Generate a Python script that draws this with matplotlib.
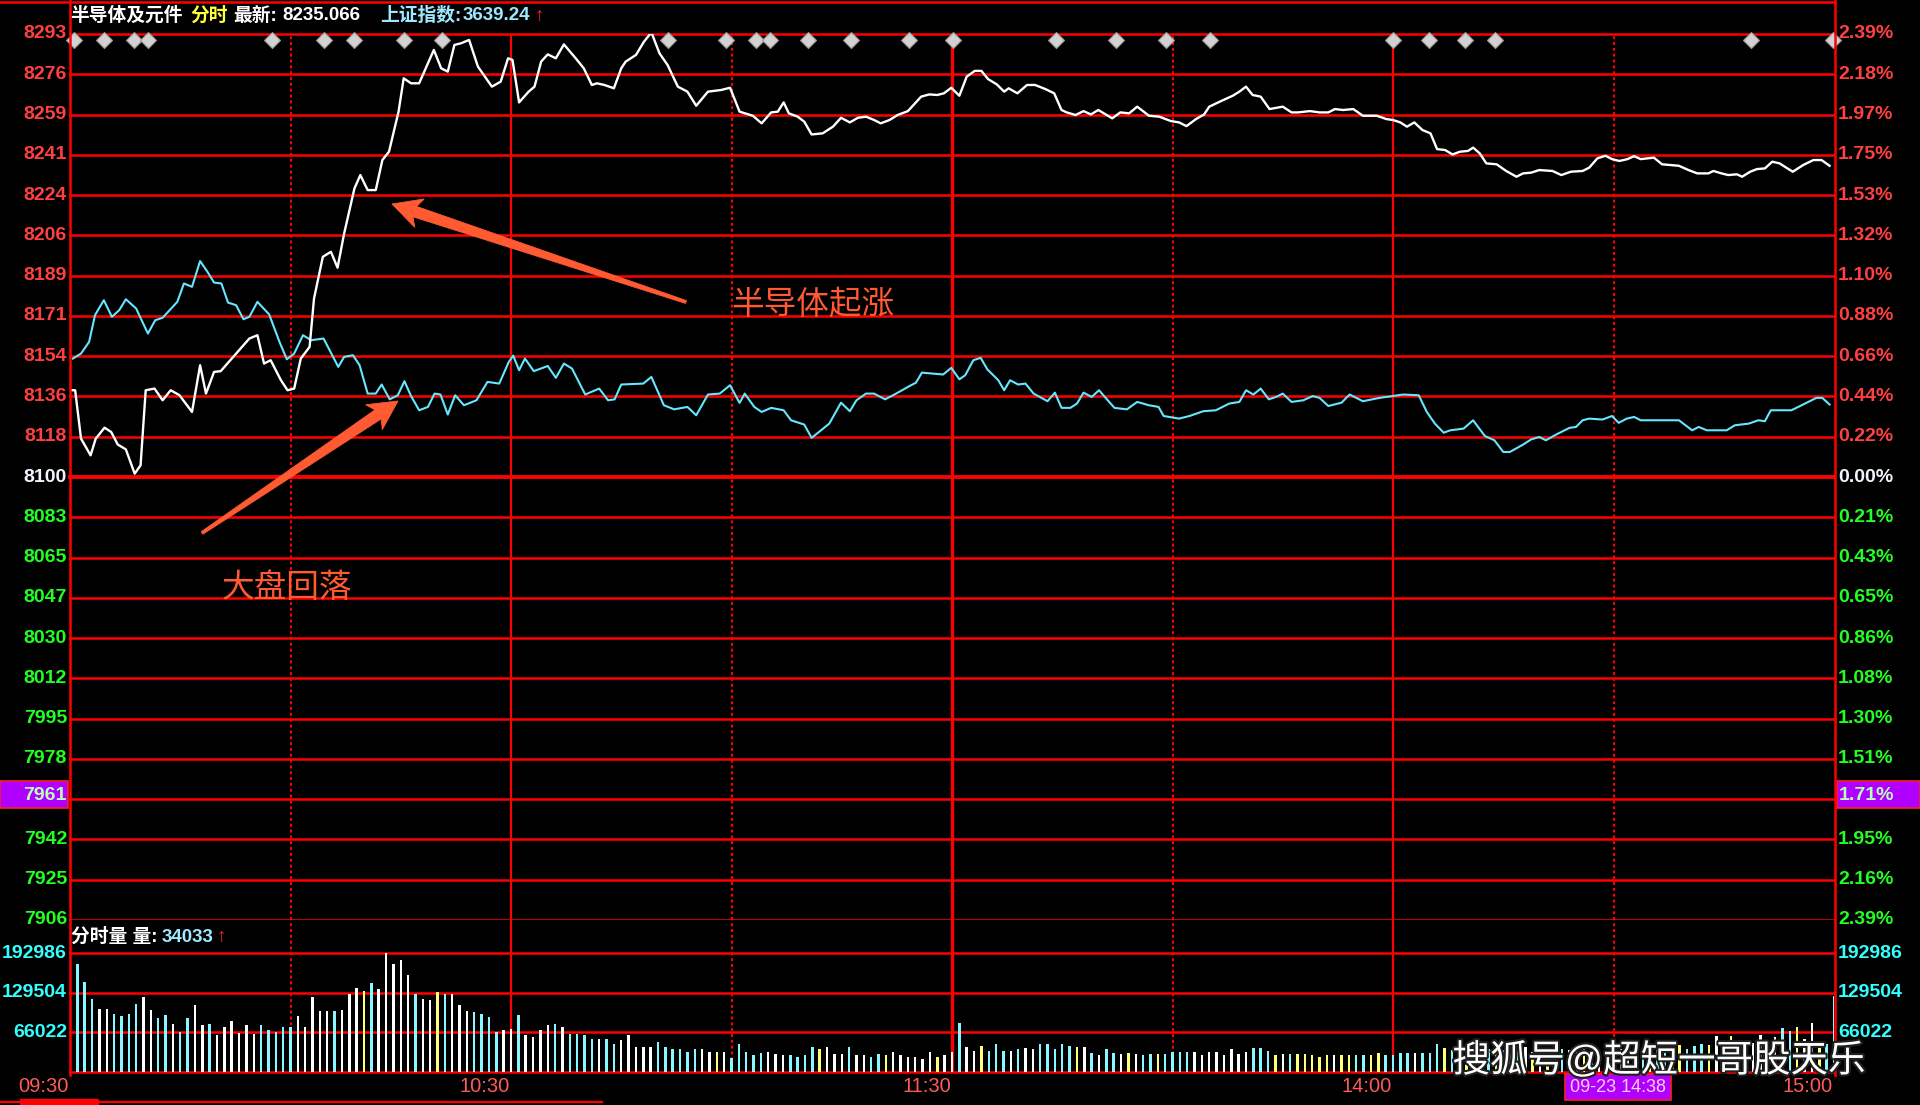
import numpy as np
import matplotlib.pyplot as plt
import matplotlib.patheffects as pe
from matplotlib.patches import Polygon, Rectangle

plt.rcParams['font.family'] = ['Liberation Sans', 'Noto Sans CJK SC', 'DejaVu Sans']

# ---------------- data ----------------
# x = trading minutes after 09:30 (lunch break removed), y = % change vs previous close
semi_t = [0, 0.7, 1.5, 2.8, 3.5, 4.7, 5.6, 6.5, 7.6, 8.8,
          9.6, 10.3, 11.5, 12.6, 13.7, 14.9, 16.6, 17.7, 18.5, 19.6,
          20.5, 22.4, 24.4, 25.5, 26.4, 27.3, 28.7, 29.6, 30.5, 31.4,
          32.6, 33.2, 34.4, 35.5, 36.4, 37.3, 38.7, 39.5, 40.5, 41.6,
          42.5, 43.4, 44.7, 45.4, 46.4, 47.5, 49.5, 50.5, 51.4, 52.3,
          53.2, 54.3, 55.5, 57.4, 58.6, 59.6, 60.2, 60.6, 61.1, 62.4,
          63.2, 64.1, 65.0, 66.1, 67.2, 68.8, 69.9, 71.0, 71.7, 72.7,
          74.0, 75.0, 75.6, 77.0, 78.1, 79.1, 80.2, 81.3, 82.7, 84.0,
          85.2, 86.8, 88.6, 89.8, 91.1, 92.9, 94.1, 95.4, 96.3, 97.1,
          97.8, 99.0, 99.9, 100.9, 102.4, 103.8, 104.9, 106.1, 107.2, 108.3,
          109.4, 110.3, 111.5, 112.6, 114.0, 115.8, 116.9, 118.0, 118.9, 119.9,
          121.0, 122.0, 123.1, 124.0, 124.9, 126.1, 127.1, 127.7, 128.9, 130.2,
          131.3, 132.7, 133.9, 134.9, 135.6, 136.8, 137.9, 138.9, 139.9, 141.8,
          142.9, 144.1, 145.2, 146.8, 148.2, 149.8, 150.9, 151.9, 153.2, 154.3,
          155.0, 156.6, 158.2, 159.1, 160.0, 160.9, 162.0, 163.2, 165.0, 166.2,
          167.1, 168.7, 170.0, 171.2, 172.1, 173.2, 174.6, 175.9, 177.8, 179.1,
          180.0, 181.0, 181.9, 182.9, 184.0, 185.1, 186.0, 187.1, 188.1, 189.1,
          190.2, 190.9, 191.8, 192.7, 194.1, 195.4, 196.8, 197.7, 198.8, 199.9,
          201.7, 202.9, 204.2, 205.8, 206.7, 207.8, 208.9, 209.8, 210.8, 211.9,
          212.8, 213.7, 215.5, 216.6, 218.9, 220.2, 221.4, 222.9, 223.6, 224.7,
          225.6, 226.8, 227.5, 228.6, 229.5, 230.6, 231.6, 232.6, 233.5, 234.4,
          235.8, 237.2, 238.3, 239.4]
semi_pct = [0.468, 0.468, 0.207, 0.117, 0.207, 0.266, 0.243, 0.175, 0.149, 0.018,
            0.063, 0.468, 0.477, 0.414, 0.468, 0.441, 0.351, 0.603, 0.450, 0.567,
            0.571, 0.657, 0.747, 0.765, 0.612, 0.630, 0.522, 0.468, 0.477, 0.639,
            0.702, 0.963, 1.188, 1.215, 1.129, 1.314, 1.557, 1.629, 1.548, 1.548,
            1.710, 1.755, 1.971, 2.151, 2.124, 2.124, 2.304, 2.205, 2.187, 2.331,
            2.340, 2.358, 2.214, 2.106, 2.133, 2.259, 2.250, 2.150, 2.021, 2.079,
            2.106, 2.241, 2.280, 2.259, 2.334, 2.259, 2.205, 2.115, 2.124, 2.115,
            2.097, 2.205, 2.241, 2.277, 2.349, 2.399, 2.286, 2.223, 2.106, 2.079,
            2.003, 2.079, 2.088, 2.100, 1.971, 1.949, 1.908, 1.967, 1.971, 2.021,
            1.962, 1.944, 1.917, 1.848, 1.854, 1.890, 1.938, 1.913, 1.938, 1.944,
            1.926, 1.908, 1.926, 1.953, 1.974, 2.052, 2.064, 2.061, 2.070, 2.100,
            2.057, 2.160, 2.191, 2.191, 2.147, 2.118, 2.079, 2.097, 2.070, 2.115,
            2.115, 2.093, 2.070, 1.980, 1.967, 1.953, 1.974, 1.956, 1.980, 1.935,
            1.967, 1.962, 1.998, 1.949, 1.944, 1.920, 1.913, 1.893, 1.931, 1.956,
            1.998, 2.028, 2.057, 2.079, 2.106, 2.061, 2.052, 1.985, 1.998, 1.967,
            1.967, 1.974, 1.967, 1.967, 1.985, 1.980, 1.985, 1.949, 1.949, 1.931,
            1.926, 1.913, 1.890, 1.913, 1.872, 1.854, 1.769, 1.764, 1.740, 1.755,
            1.759, 1.777, 1.746, 1.692, 1.687, 1.651, 1.620, 1.638, 1.642, 1.656,
            1.651, 1.629, 1.647, 1.651, 1.669, 1.719, 1.733, 1.715, 1.705, 1.715,
            1.731, 1.715, 1.723, 1.687, 1.679, 1.656, 1.638, 1.638, 1.651, 1.638,
            1.629, 1.633, 1.620, 1.647, 1.661, 1.665, 1.701, 1.692, 1.669, 1.647,
            1.683, 1.710, 1.710, 1.679]

sh_t = [0.4, 1.5, 2.6, 3.4, 4.6, 5.7, 6.7, 7.6, 9.0, 10.6,
        11.6, 12.6, 14.6, 15.5, 16.6, 17.7, 18.7, 19.6, 20.6, 21.5,
        22.6, 23.6, 24.4, 25.5, 27.1, 28.5, 29.5, 30.5, 31.7, 32.8,
        34.5, 36.5, 37.3, 38.5, 39.4, 40.5, 41.6, 42.4, 43.5, 44.6,
        45.5, 46.4, 47.5, 48.7, 49.6, 50.4, 51.4, 52.4, 53.6, 55.3,
        56.8, 58.4, 59.7, 60.3, 61.1, 61.9, 63.1, 65.0, 66.1, 67.2,
        68.3, 70.1, 72.0, 73.2, 74.1, 75.0, 78.0, 79.1, 80.8, 82.2,
        84.0, 85.2, 86.8, 88.4, 89.8, 91.1, 91.8, 93.1, 94.1, 95.4,
        97.1, 98.1, 99.9, 100.9, 103.3, 104.9, 106.1, 107.0, 108.3, 109.4,
        110.9, 112.4, 114.0, 115.1, 115.9, 118.8, 119.9, 121.0, 121.8, 122.9,
        123.9, 124.8, 126.3, 127.1, 127.9, 129.0, 130.0, 131.1, 133.0, 134.0,
        134.9, 136.1, 137.0, 137.9, 139.0, 140.0, 142.1, 143.8, 145.2, 146.8,
        148.1, 148.8, 150.9, 152.3, 154.2, 155.9, 157.7, 159.1, 160.0, 161.0,
        162.0, 163.1, 164.1, 165.0, 166.2, 167.8, 169.1, 170.0, 171.2, 173.0,
        174.1, 175.9, 178.2, 180.0, 181.4, 183.5, 184.6, 185.7, 186.9, 187.8,
        189.6, 190.9, 192.5, 193.8, 195.0, 195.9, 197.7, 198.8, 199.9, 200.8,
        202.2, 204.0, 204.9, 205.8, 206.7, 208.5, 209.8, 210.7, 211.8, 212.8,
        213.7, 216.2, 218.9, 219.8, 220.7, 221.6, 222.7, 225.4, 226.5, 228.4,
        229.7, 230.6, 231.4, 234.2, 235.8, 237.6, 238.4, 239.4]
sh_pct = [0.639, 0.666, 0.729, 0.873, 0.954, 0.864, 0.900, 0.959, 0.909, 0.774,
          0.846, 0.859, 0.945, 1.044, 1.026, 1.165, 1.107, 1.049, 1.044, 0.941,
          0.927, 0.851, 0.864, 0.945, 0.877, 0.729, 0.635, 0.666, 0.765, 0.738,
          0.747, 0.594, 0.648, 0.657, 0.603, 0.450, 0.450, 0.499, 0.419, 0.441,
          0.517, 0.437, 0.360, 0.378, 0.450, 0.445, 0.337, 0.441, 0.387, 0.414,
          0.513, 0.504, 0.621, 0.655, 0.576, 0.639, 0.571, 0.599, 0.535, 0.612,
          0.585, 0.445, 0.477, 0.414, 0.419, 0.499, 0.504, 0.540, 0.387, 0.365,
          0.378, 0.333, 0.445, 0.450, 0.495, 0.400, 0.450, 0.378, 0.351, 0.373,
          0.360, 0.306, 0.283, 0.211, 0.288, 0.401, 0.355, 0.414, 0.450, 0.450,
          0.419, 0.450, 0.486, 0.509, 0.563, 0.553, 0.589, 0.527, 0.549, 0.630,
          0.643, 0.581, 0.522, 0.468, 0.522, 0.499, 0.504, 0.450, 0.409, 0.455,
          0.373, 0.373, 0.396, 0.455, 0.432, 0.468, 0.373, 0.365, 0.405, 0.387,
          0.378, 0.329, 0.315, 0.329, 0.355, 0.360, 0.396, 0.405, 0.468, 0.445,
          0.477, 0.419, 0.432, 0.450, 0.405, 0.414, 0.437, 0.427, 0.383, 0.401,
          0.445, 0.409, 0.427, 0.437, 0.445, 0.441, 0.351, 0.288, 0.239, 0.252,
          0.261, 0.306, 0.221, 0.198, 0.135, 0.135, 0.175, 0.203, 0.216, 0.198,
          0.229, 0.265, 0.270, 0.306, 0.315, 0.310, 0.329, 0.292, 0.315, 0.324,
          0.306, 0.306, 0.306, 0.279, 0.252, 0.270, 0.252, 0.252, 0.279, 0.288,
          0.306, 0.301, 0.360, 0.360, 0.391, 0.427, 0.427, 0.391]

# per-minute volume, 09:30 .. 15:00
vol = [63700, 175000, 147000, 119000, 104000, 104000, 95000, 92000, 96000, 112000,
       122000, 102000, 89000, 94000, 79000, 66000, 89000, 109000, 77000, 79000,
       62000, 74000, 84000, 65000, 77000, 64000, 77000, 70000, 66000, 74000,
       74000, 92000, 75000, 123000, 100000, 100000, 100000, 102000, 127000, 137000,
       132000, 145000, 135000, 192986, 176000, 182000, 157000, 127000, 119000, 118000,
       131000, 127000, 127000, 109000, 100000, 99000, 96000, 91000, 66000, 69000,
       72000, 94000, 62000, 59000, 69000, 77000, 79000, 74000, 64000, 64000,
       61000, 56000, 56000, 55000, 47000, 53000, 61000, 43000, 43000, 43000,
       51000, 43000, 39000, 39000, 34000, 39000,
       39000, 34000, 34000, 34000, 25000, 47000, 34000, 29000, 33000, 34000,
       31000, 29000, 29000, 26000, 29000, 42000, 39000, 42000, 31000, 31000,
       42000, 29000, 29000, 26000, 31000, 29000, 34000, 29000, 26000, 26000,
       24000, 34000, 26000, 29000, 34000, 81000, 42000, 36000, 44000, 36000,
       47000, 36000, 36000, 40000, 41000, 40000, 47000, 47000, 39000, 48000,
       44000, 42000, 42000, 33000, 29000, 39000, 33000, 31000, 33000, 31000,
       29000, 31000, 31000, 31000, 34000, 34000, 34000, 34000, 29000, 34000,
       34000, 29000, 39000, 31000, 34000, 41000, 41000, 36000, 29000, 31000,
       31000, 31000, 31000, 29000, 26000, 29000, 29000,
       29000, 29000, 29000, 29000, 29000, 33000, 29000, 29000, 33000, 33000,
       33000, 33000, 33000, 47000, 41000, 38000,
       36000, 33000, 38000, 35000, 40000, 34000, 37000, 33000, 36000, 42000,
       35000, 38000, 34000, 36000, 40000, 37000, 35000, 39000, 41000, 36000,
       38000, 44000, 40000, 37000, 42000, 39000, 45000, 41000, 38000, 43000,
       46000, 40000, 44000, 48000, 45000,
       60000, 47000, 60000, 50000, 46000, 49000, 61000, 52000, 58000, 73000,
       68000, 74000, 56000, 81000, 52000, 48000, 124000]

marker_t = [0.6, 4.6, 8.7, 10.6, 27.5, 34.6, 38.6, 45.4, 50.6, 81.4, 89.3, 93.3, 95.2,
            100.4, 106.3, 114.1, 120.1, 134.1, 142.3, 149.1, 155.1, 180.0, 184.9,
            189.8, 193.9, 228.7, 239.9]

left_up = ['8293', '8276', '8259', '8241', '8224', '8206', '8189', '8171', '8154', '8136', '8118']
left_dn = ['8083', '8065', '8047', '8030', '8012', '7995', '7978', '7961', '7942', '7925', '7906']
right_up = ['2.39%', '2.18%', '1.97%', '1.75%', '1.53%', '1.32%', '1.10%', '0.88%', '0.66%', '0.44%', '0.22%']
right_dn = ['0.21%', '0.43%', '0.65%', '0.86%', '1.08%', '1.30%', '1.51%', '1.71%', '1.95%', '2.16%', '2.39%']
vol_ticks = [192986, 129504, 66022]
time_labels = ['09:30', '10:30', '11:30', '14:00', '15:00']
time_pos = [0, 60, 120, 180, 240]

# ---------------- layout ----------------
W, H = 1920, 1105
X0, X1 = 70, 1834
Y_TOP, Y_MID, Y_VOL = 34, 920, 1072
RED = '#ff0000'
PCT_MAX = 2.39
VOL_MIN = 2540
VOL_MAX = VOL_MIN + (192986 - VOL_MIN) * (Y_VOL - Y_MID) / (Y_VOL - 953)


def rect(x0, y0, x1, y1):
    return [x0 / W, 1 - y1 / H, (x1 - x0) / W, (y1 - y0) / H]


fig = plt.figure(figsize=(19.2, 11.05), dpi=100, facecolor='black')
ax = fig.add_axes(rect(X0, Y_TOP, X1, Y_MID), facecolor='black')
axv = fig.add_axes(rect(X0, Y_MID, X1, Y_VOL), facecolor='black')
for a in (ax, axv):
    a.set_xlim(0, 240)
    a.set_xticks([])
    a.set_yticks([])
    for s in a.spines.values():
        s.set_visible(False)
ax.set_ylim(-PCT_MAX, PCT_MAX)
axv.set_ylim(VOL_MIN, VOL_MAX)

# grid
step = PCT_MAX / 11
for k in range(-11, 12):
    ax.axhline(k * step, color=RED, lw=2.8 if k == 0 else 1.8, clip_on=False, zorder=1)
for yv in vol_ticks + [VOL_MIN]:
    axv.axhline(yv, color=RED, lw=1.8, clip_on=False, zorder=1)
for a in (ax, axv):
    for m in (30, 90, 150, 210):
        a.axvline(m, color=RED, lw=1.5, ls=(0, (1.4, 1.4)), zorder=1)
    for m in (60, 180):
        a.axvline(m, color=RED, lw=1.6, zorder=1)
    a.axvline(120, color=RED, lw=2.4, zorder=1)

# price lines
ax.plot(sh_t, sh_pct, color='#66e6ff', lw=1.5, zorder=3)
ax.plot(semi_t, semi_pct, color='white', lw=1.7, zorder=4)
ax.plot(marker_t, [2.357] * len(marker_t), 'D', ms=8, color='#d2d2d2',
        mec='#9a9a9a', mew=0.8, clip_on=False, zorder=5)

# volume bars, tinted by the index direction
mins = np.arange(len(vol))
semi_min = np.interp(mins, semi_t, semi_pct)
d = np.diff(semi_min, prepend=semi_min[0])
bar_cols = np.where(d > 0.006, '#ffffff', np.where(d < -0.006, '#8af6ff', '#ffff78'))
axv.bar(mins, vol, width=0.34, color=bar_cols, linewidth=0, zorder=3)

# axis labels
ytr = ax.get_yaxis_transform()
lx, rx = -3 / (X1 - X0), 1 + 4 / (X1 - X0)
lab_kw = dict(fontsize=14, fontweight='bold', va='center')
for i, (l, r) in enumerate(zip(left_up, right_up)):
    y = (11 - i) * step
    ax.text(lx, y, l, transform=ytr, ha='right', color='#ff4040', **lab_kw)
    ax.text(rx, y, r, transform=ytr, ha='left', color='#ff4040', **lab_kw)
ax.text(lx, 0, '8100', transform=ytr, ha='right', color='#f0f4ff', **lab_kw)
ax.text(rx, 0, '0.00%', transform=ytr, ha='left', color='#f0f4ff', **lab_kw)
for i, (l, r) in enumerate(zip(left_dn, right_dn)):
    if l == '7961':
        continue  # drawn on the cursor box
    y = -(i + 1) * step
    ax.text(lx, y, l, transform=ytr, ha='right', color='#22ff22', **lab_kw)
    ax.text(rx, y, r, transform=ytr, ha='left', color='#22ff22', **lab_kw)
vtr = axv.get_yaxis_transform()
for v in vol_ticks:
    axv.text(lx, v, str(v), transform=vtr, ha='right', color='#33ffff', **lab_kw)
    axv.text(rx, v, str(v), transform=vtr, ha='left', color='#33ffff', **lab_kw)

# ---------------- overlay in pixel space ----------------
ov = fig.add_axes([0, 0, 1, 1])
ov.set_xlim(0, W)
ov.set_ylim(H, 0)
ov.axis('off')
ov.patch.set_alpha(0)

ov.plot([0, X1 + 1], [1.5, 1.5], color=RED, lw=1.8)
ov.plot([X0, X0], [0, Y_VOL + 3], color=RED, lw=1.8)
ov.plot([X1 + 1, X1 + 1], [0, Y_VOL + 3], color=RED, lw=1.8)
ov.plot([0, 602], [1102, 1102], color=RED, lw=1.6)
ov.add_patch(Rectangle((20, 1099), 78, 6, color=RED))

# header line
hdr = [(70, '半导体及元件', 'white'), (190, '分时', '#ffff40'), (233, '最新:', 'white'),
       (282, '8235.066', 'white'), (380, '上证指数:', '#9fe8ff'), (463, '3639.24', '#9fe8ff'),
       (535, '↑', '#ff2020')]
for x, s, c in hdr:
    ov.text(x, 16, s, color=c, fontsize=13.5, fontweight='bold', ha='left', va='center')
vt = [(71, '分时量 量:', 'white'), (162, '34033', '#9fe8ff'), (217, '↑', '#ff2020')]
for x, s, c in vt:
    ov.text(x, 937, s, color=c, fontsize=13.5, fontweight='bold', ha='left', va='center')

# time labels
for m, s in zip(time_pos, time_labels):
    px = X0 + m / 240 * (X1 - X0)
    ov.text(px - 1, 1086, s, color='#ff5a5a', fontsize=14.5, ha='right', va='center')

# cursor boxes
ov.add_patch(Rectangle((0, 781), 68, 27, facecolor='#b000ff', edgecolor='#ff2020', lw=1.2))
ov.text(66, 795, '7961', color='#b8ffb8', fontsize=14, fontweight='bold', ha='right', va='center')
ov.add_patch(Rectangle((1837, 781), 83, 27, facecolor='#b000ff', edgecolor='#ff2020', lw=1.2))
ov.text(1839, 795, '1.71%', color='#b8ffb8', fontsize=14, fontweight='bold', ha='left', va='center')
ov.add_patch(Rectangle((1565, 1074), 106, 26, facecolor='#b000ff', edgecolor='#ff2020', lw=1.2))
ov.text(1618, 1088, '09-23 14:38', color='#ffd0e8', fontsize=13, ha='center', va='center')


# annotation arrows
def wedge_arrow(tail, tip, tail_w, neck_w, head_w, head_len, color):
    tail = np.array(tail, float)
    tip = np.array(tip, float)
    u = (tip - tail) / np.hypot(*(tip - tail))
    n = np.array([-u[1], u[0]])
    neck = tip - u * head_len
    barb = neck - u * 5
    pts = [tail + n * tail_w / 2, neck + n * neck_w / 2, barb + n * head_w / 2, tip,
           barb - n * head_w / 2, neck - n * neck_w / 2, tail - n * tail_w / 2]
    ov.add_patch(Polygon(pts, closed=True, facecolor=color, edgecolor=color, lw=0.6, zorder=6))


ARROW = '#ff5a32'
wedge_arrow((686, 302), (392, 204), 3, 11, 30, 24, ARROW)
wedge_arrow((202, 533), (398, 401), 3, 11, 30, 24, ARROW)
ov.text(813, 305, '半导体起涨', color=ARROW, fontsize=23.5, ha='center', va='center')
ov.text(287, 589, '大盘回落', color=ARROW, fontsize=23.5, ha='center', va='center')

# watermark
ov.text(1659, 1061, '搜狐号@超短一哥股天乐', color='white', fontsize=27, ha='center', va='center',
        path_effects=[pe.withStroke(linewidth=3, foreground='#202020')], zorder=7)

fig.savefig('out.png', dpi=100, facecolor='black')
